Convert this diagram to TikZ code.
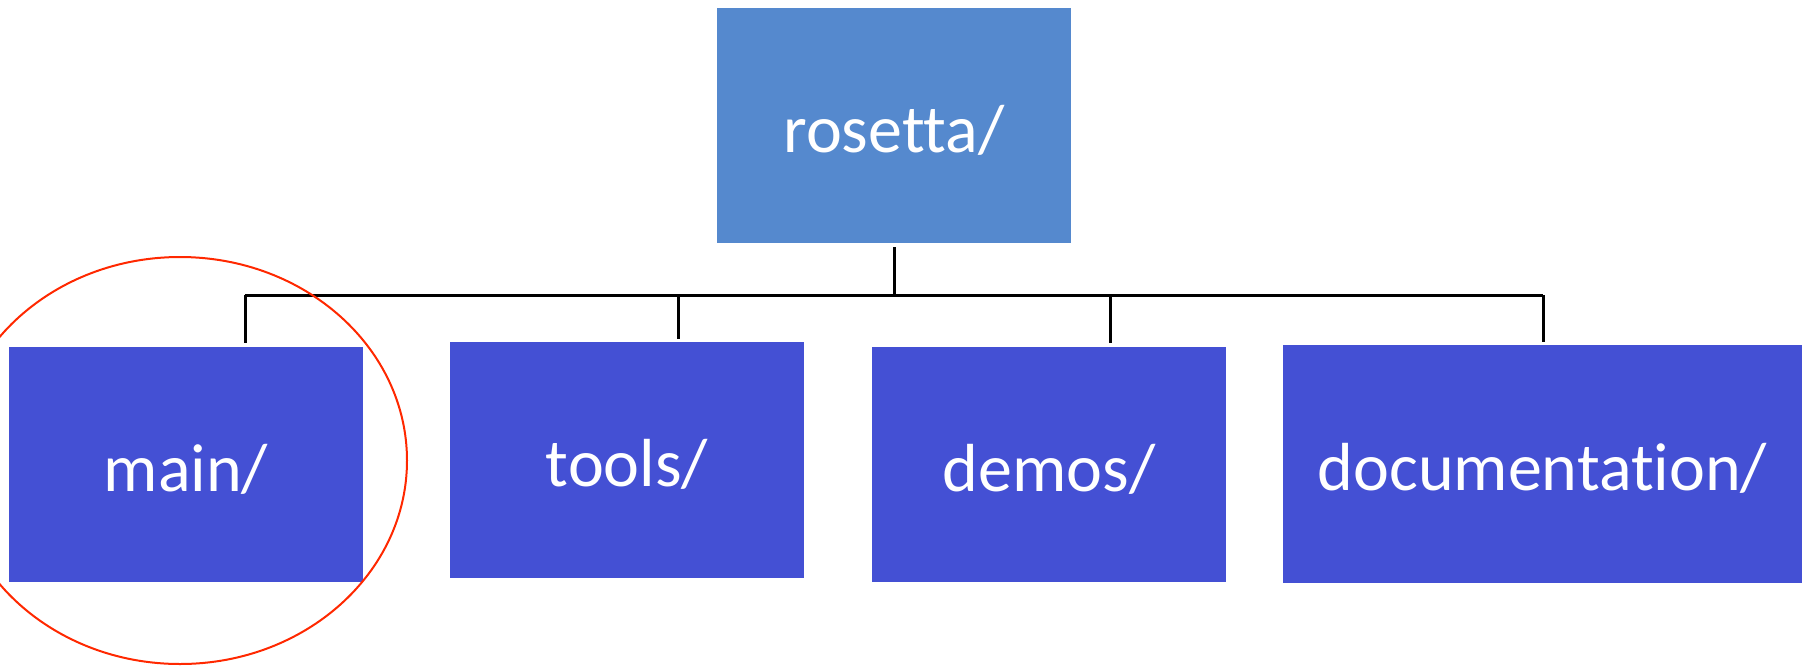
\documentclass[tikz,border=0pt]{standalone}
\usepackage{fontspec}
\usetikzlibrary{shapes.geometric}
\setmainfont[Ligatures={NoCommon,NoRare,NoContextual}]{Carlito}
\definecolor{rootblue}{RGB}{85,137,206}
\definecolor{childblue}{RGB}{68,80,212}
\definecolor{ringred}{RGB}{255,40,0}
\begin{document}
\begin{tikzpicture}[x=1pt,y=-1pt,
  dirbox/.style={rectangle, inner sep=0pt, text=white,
    font=\fontsize{68}{80}\selectfont, text height=61pt, text depth=8pt,
    minimum width=354pt, minimum height=235pt},
  conn/.style={draw=black, line width=3pt},
  ring/.style={draw=ringred, line width=2pt}]
\useasboundingbox (0,0) rectangle (1806,665);
\clip (0,0) rectangle (1806,665);
\node[dirbox, fill=rootblue] (root) at (894,125.5) {rosetta/};
\node[dirbox, fill=childblue] (main) at (186,464.5) {main/};
\node[dirbox, fill=childblue, minimum height=236pt] (tools) at (627,460) {tools/};
\node[dirbox, fill=childblue] (demos) at (1049,464.5) {demos/};
\node[dirbox, fill=childblue, minimum width=519pt, minimum height=238pt] (doc) at (1542.5,464) {documentation/};
\coordinate (bus) at (894,295);
\coordinate (j1) at (245,295);
\coordinate (j2) at (678,295);
\coordinate (j3) at (1110,295);
\coordinate (j4) at (1543,295);
\draw[conn, shorten <=4pt] (root.south) -- (bus);
\draw[conn] (j1) -- (j4);
\draw[conn, shorten >=4pt] (j1) -- (j1 |- main.north);
\draw[conn, shorten >=3pt] (j2) -- (j2 |- tools.north);
\draw[conn, shorten >=4pt] (j3) -- (j3 |- demos.north);
\draw[conn, shorten >=3pt] (j4) -- (j4 |- doc.north);
\node[ring, ellipse, minimum width=454pt, minimum height=407pt, inner sep=0pt] (hl) at (180,460.5) {};
\end{tikzpicture}
\end{document}
